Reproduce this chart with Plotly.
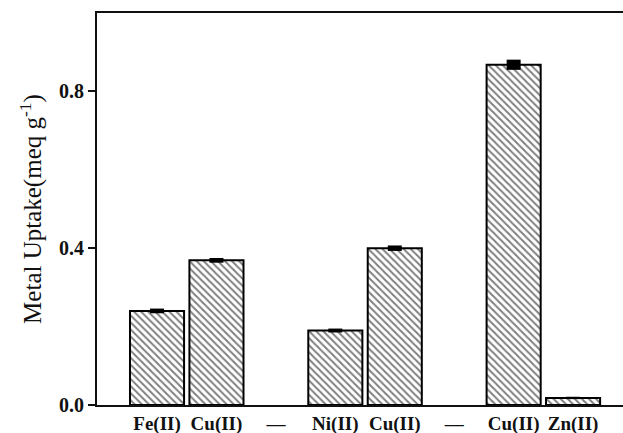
import plotly.graph_objects as go

positions = [0, 1, 3, 4, 6, 7]
values = [0.24, 0.369, 0.19, 0.40, 0.868, 0.018]
errors = [0.006, 0.006, 0.005, 0.007, 0.013, 0.003]
tick_pos = [0, 1, 2, 3, 4, 5, 6, 7]
tick_text = ["Fe(II)", "Cu(II)", "—", "Ni(II)", "Cu(II)", "—", "Cu(II)", "Zn(II)"]
y_ticks = [0.0, 0.4, 0.8]
y_ticktext = ["0.0", "0.4", "0.8"]

fig = go.Figure()
fig.add_trace(go.Bar(
    x=positions, y=values, width=0.91,
    marker=dict(color="white", line=dict(color="black", width=2),
                pattern=dict(shape="\\", fgcolor="black", bgcolor="white", size=5, solidity=0.4)),
    error_y=dict(type="data", array=errors, visible=True, color="black", thickness=14, width=0),
))

fig.update_layout(
    width=623, height=433,
    margin=dict(l=97, r=0, t=13, b=28, pad=0),
    paper_bgcolor="white", plot_bgcolor="white",
    showlegend=False,
    font=dict(family="Liberation Serif", color="#111"),
    xaxis=dict(range=[-1.01, 7.84], tickmode="array", tickvals=tick_pos, ticktext=tick_text,
               showline=True, mirror=True, linecolor="#111", linewidth=2, ticks="", showgrid=False,
               zeroline=False, automargin=False,
               tickfont=dict(family="Liberation Serif", size=19, weight="bold")),
    yaxis=dict(range=[0, 1.0], tickmode="array", tickvals=y_ticks, ticktext=y_ticktext,
               showline=True, linecolor="#111", linewidth=2, ticks="outside", ticklen=7, tickwidth=2,
               tickcolor="#111", showgrid=False, zeroline=False, automargin=False,
               tickfont=dict(family="Liberation Serif", size=20, weight="bold"),
               title=dict(text="Metal Uptake(meq g<sup>-1</sup>)", font=dict(family="Liberation Serif", size=25),
                          standoff=10)),
)

fig.write_html("out.html", config={"displayModeBar": False},
               post_script="document.body.style.margin='0';document.body.style.padding='0';document.body.style.overflow='hidden';")
